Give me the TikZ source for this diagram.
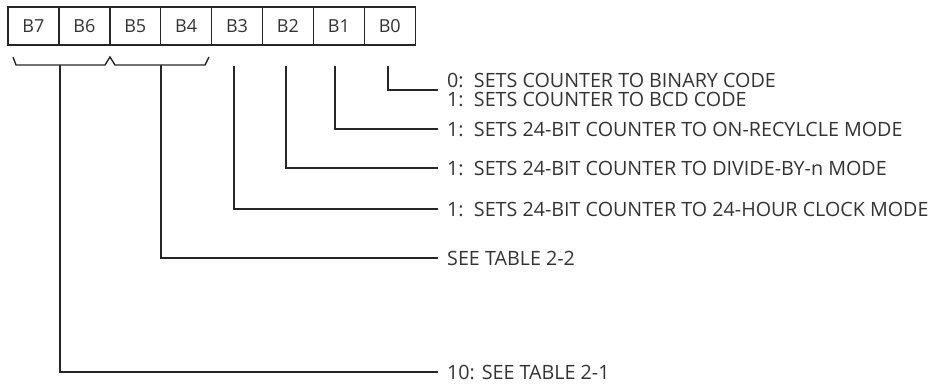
\documentclass[tikz,border=0pt]{standalone}
\usepackage{fontspec}
\setmainfont{Open Sans}
\begin{document}
\begin{tikzpicture}[x=1pt,y=-1pt,
  ln/.style={draw=black!85,line width=1.4pt},
  cell/.style={draw=black!85,line width=1.4pt,minimum width=50.9pt,minimum height=38pt,inner sep=0pt,text=black!80,font=\fontsize{18}{18}\selectfont},
  lbl/.style={anchor=west,inner sep=0pt,text=black!80,font=\fontsize{19.7}{19}\selectfont,align=left}]
\useasboundingbox (0,0) rectangle (933,383);
\foreach \n [count=\i from 0] in {B7,B6,B5,B4,B3,B2,B1,B0}
  \node[cell] (c\n) at (8+25.45+50.9*\i,26) {\n};
% braces
\coordinate (bL1) at (13,57); \coordinate (bL2) at (16,65);
\coordinate (bM1) at (105,65); \coordinate (bM) at (110,57); \coordinate (bM2) at (115,65);
\coordinate (bR2) at (205,65); \coordinate (bR1) at (209,57);
\draw[ln,line join=miter] (bL1) -- (bL2) -- (bM1) -- (bM) -- (bM2) -- (bR2) -- (bR1);
% stems
\coordinate (s76) at (60,65); \coordinate (s54) at (161,65);
\coordinate (s3) at (234,66); \coordinate (s2) at (286,66);
\coordinate (s1) at (335,66); \coordinate (s0) at (388,66);
% labels
\node[lbl] (t0) at (447,90) {0:\ \ SETS COUNTER TO BINARY CODE\\1:\ \ SETS COUNTER TO BCD CODE};
\node[lbl] (t1) at (447,129) {1:\ \ SETS 24-BIT COUNTER TO ON-RECYLCLE MODE};
\node[lbl] (t2) at (447,168) {1:\ \ SETS 24-BIT COUNTER TO DIVIDE-BY-n MODE};
\node[lbl] (t3) at (447,209) {1:\ \ SETS 24-BIT COUNTER TO 24-HOUR CLOCK MODE};
\node[lbl] (t54) at (447,258) {SEE TABLE 2-2};
\node[lbl] (t76) at (447,372) {10: SEE TABLE 2-1};
% connectors
\draw[ln] (s0) |- ([xshift=-9pt]t0.west);
\draw[ln] (s1) |- ([xshift=-9pt]t1.west);
\draw[ln] (s2) |- ([xshift=-9pt]t2.west);
\draw[ln] (s3) |- ([xshift=-9pt]t3.west);
\draw[ln] (s54) |- ([xshift=-9pt]t54.west);
\draw[ln] (s76) |- ([xshift=-9pt]t76.west);
\end{tikzpicture}
\end{document}
